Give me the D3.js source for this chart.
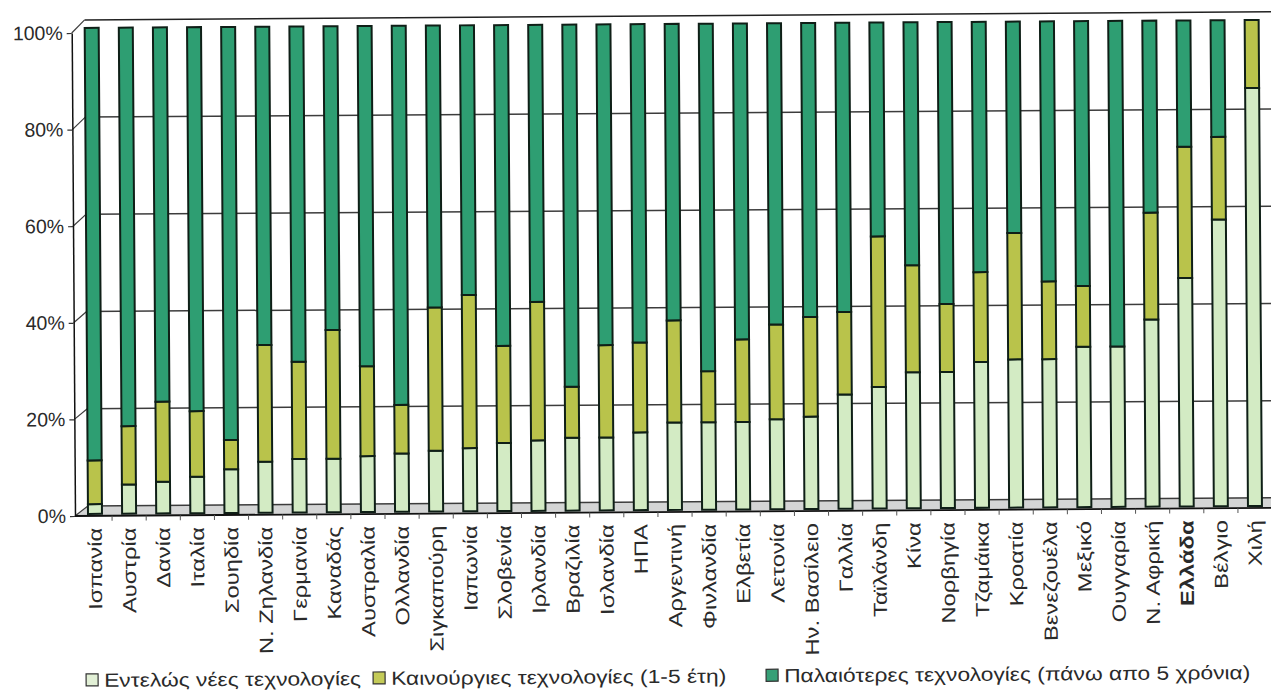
<!DOCTYPE html>
<html lang="el">
<head>
<meta charset="utf-8">
<script src="https://cdn.jsdelivr.net/npm/d3@7/dist/d3.min.js"></script>
<style>
  html, body { margin: 0; padding: 0; background: #fff; }
  svg { display: block; }
  text { font-family: "Liberation Sans", Arial, sans-serif; fill: #2a2a2a; }
</style>
</head>
<body>
<svg id="chart" width="1271" height="690"></svg>
<script>
// Countries, ordered by share of brand-new technologies
const categories = [
  "Ισπανία", "Αυστρία", "Δανία", "Ιταλία", "Σουηδία", "Ν. Ζηλανδία", "Γερμανία",
  "Καναδάς", "Αυστραλία", "Ολλανδία", "Σιγκαπούρη", "Ιαπωνία", "Σλοβενία",
  "Ιρλανδία", "Βραζιλία", "Ισλανδία", "ΗΠΑ", "Αργεντινή", "Φινλανδία", "Ελβετία",
  "Λετονία", "Ην. Βασίλειο", "Γαλλία", "Ταϊλάνδη", "Κίνα", "Νορβηγία", "Τζαμάικα",
  "Κροατία", "Βενεζουέλα", "Μεξικό", "Ουγγαρία", "Ν. Αφρική", "Ελλάδα", "Βέλγιο", "Χιλή"
];

// Shares (%) per technology age group
const brandNew = [
  2, 6, 6.5, 7.5, 9, 10.5, 11, 11, 11.5, 12, 12.5, 13, 14, 14.5, 15, 15, 16, 18, 18, 18,
  18.5, 19, 23.5, 25, 28, 28, 30, 30.5, 30.5, 33, 33, 38.5, 47, 59, 86
];
const recent = [
  9, 12, 16.5, 13.5, 6, 24, 20, 26.5, 18.5, 10, 29.5, 31.5, 20, 28.5, 10.5, 19, 18.5, 21, 10.5, 17,
  19.5, 20.5, 17, 31, 22, 14, 18.5, 26, 16, 12.5, 0, 22, 27, 17, 14
];
const older = [
  89, 82, 77, 79, 85, 65.5, 69, 62.5, 70, 78, 58, 55.5, 66, 57, 74.5, 66, 65.5, 61, 71.5, 65,
  62, 60.5, 59.5, 44, 50, 58, 51.5, 43.5, 53.5, 54.5, 67, 39.5, 26, 24, 0
];

const seriesKeys = ["new", "recent", "older"];
const seriesLabels = [
  "Εντελώς νέες τεχνολογίες",
  "Καινούργιες τεχνολογίες (1-5 έτη)",
  "Παλαιότερες τεχνολογίες (πάνω απο 5 χρόνια)"
];
const yTicks = [0, 20, 40, 60, 80, 100];
const boldCategory = "Ελλάδα";

const colors = { new: "#d3ebc4", recent: "#b9c34b", older: "#2e9e72" };
const legendColors = { new: "#e2f0d6", recent: "#c4cb58", older: "#36a077" };

const rows = categories.map((c, i) => ({
  country: c, new: brandNew[i], recent: recent[i], older: older[i]
}));

const svg = d3.select("#chart");
// the whole sheet is tilted very slightly
const root = svg.append("g").attr("transform", "rotate(-0.39, 75, 516)");

// scales: bars sit in the middle of a shallow 3D box
const x = d3.scalePoint().domain(categories).range([95, 1255]);
const barW = 14;
const yBar = d3.scaleLinear().domain([0, 100]).range([514, 28]);
const yFront = d3.scaleLinear().domain([0, 100]).range([516, 33]);
const yBack = d3.scaleLinear().domain([0, 100]).range([506, 20]);
const depthX = 13;
const frontX = 75;
const rightEdge = 1290;

// floor
root.append("path")
  .attr("d", `M${frontX},${yFront(0)} L${frontX + depthX},${yBack(0)} L${rightEdge},${yBack(0)} L${rightEdge},${yFront(0)} Z`)
  .attr("fill", "#d4d5d5");

// back-wall gridlines
root.append("g").selectAll("line")
  .data(yTicks)
  .join("line")
  .attr("x1", frontX + depthX).attr("x2", rightEdge)
  .attr("y1", d => yBack(d)).attr("y2", d => yBack(d))
  .attr("stroke", d => d === 100 ? "#222" : "#3c3c3c")
  .attr("stroke-width", 1.5);

// side-wall connectors from the front axis to the back wall
root.append("g").selectAll("line")
  .data(yTicks)
  .join("line")
  .attr("x1", frontX).attr("y1", d => yFront(d))
  .attr("x2", frontX + depthX).attr("y2", d => yBack(d))
  .attr("stroke", "#3c3c3c").attr("stroke-width", 1.2);

// stacked bars
const stacked = d3.stack().keys(seriesKeys)(rows);
const barG = root.append("g");
stacked.forEach(layer => {
  barG.append("g")
    .selectAll("rect")
    .data(layer.filter(d => d[1] - d[0] > 0))
    .join("rect")
    .attr("x", d => x(d.data.country) - barW / 2)
    .attr("y", d => yBar(d[1]))
    .attr("width", barW)
    .attr("height", d => yBar(d[0]) - yBar(d[1]))
    .attr("fill", colors[layer.key])
    .attr("stroke", "#0f1f17")
    .attr("stroke-width", 2);
});

// front baseline and category ticks
root.append("line")
  .attr("x1", frontX).attr("x2", rightEdge)
  .attr("y1", yFront(0)).attr("y2", yFront(0))
  .attr("stroke", "#111").attr("stroke-width", 1.8);

const step = x.step();
root.append("g").selectAll("line")
  .data(categories)
  .join("line")
  .attr("x1", d => x(d) + step / 2).attr("x2", d => x(d) + step / 2)
  .attr("y1", yFront(0)).attr("y2", yFront(0) + 5)
  .attr("stroke", "#555").attr("stroke-width", 1);

// y axis on the front edge
const yAxis = d3.axisLeft(yFront)
  .tickValues(yTicks)
  .tickFormat(d => d + "%")
  .tickSize(5)
  .tickSizeOuter(0)
  .tickPadding(4);
const yAxisG = root.append("g")
  .attr("transform", `translate(${frontX},0)`)
  .call(yAxis);
yAxisG.select(".domain").attr("stroke", "#111").attr("stroke-width", 1.5);
yAxisG.selectAll(".tick line").attr("stroke", "#333").attr("stroke-width", 1.2);
yAxisG.selectAll(".tick text")
  .attr("font-size", 19.5)
  .attr("font-family", "Liberation Sans, Arial, sans-serif")
  .attr("fill", "#2f2f2f");

// category labels, vertical
root.append("g").selectAll("text")
  .data(categories)
  .join("text")
  .attr("transform", d => `translate(${x(d) + 6.5},${yFront(0) + 12}) rotate(-90) scale(1.25,1)`)
  .attr("text-anchor", "end")
  .attr("font-size", 19)
  .attr("font-weight", d => d === boldCategory ? "bold" : "normal")
  .text(d => d);

// legend
const legendX = [85, 372, 765];
const legend = root.append("g");
seriesKeys.forEach((k, i) => {
  const g = legend.append("g").attr("transform", `translate(${legendX[i]},674)`);
  g.append("rect")
    .attr("width", 12).attr("height", 12)
    .attr("fill", legendColors[k])
    .attr("stroke", "#333").attr("stroke-width", 1.2);
  g.append("text")
    .attr("transform", "translate(18,13) scale(1.2,1)")
    .attr("font-size", 19)
    .text(seriesLabels[i]);
});
</script>
</body>
</html>
